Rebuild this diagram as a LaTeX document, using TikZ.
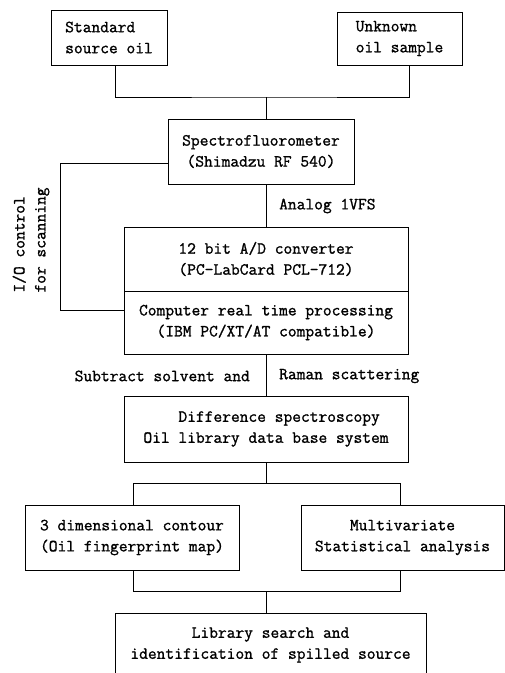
\documentclass[tikz,border=0pt]{standalone}
\usepackage{fontspec}
\newfontfamily\dotfont[FakeBold=1.2]{Latin Modern Mono}
\begin{document}
\begin{tikzpicture}[x=1pt,y=-1pt,
  box/.style={draw, line width=0.9pt, inner sep=0pt, align=center,
    font=\dotfont\fontsize{17}{21}\selectfont},
  lbl/.style={inner sep=0pt, font=\dotfont\fontsize{17}{21}\selectfont},
  conn/.style={line width=0.9pt}]
\useasboundingbox (0,0) rectangle (505,673);
% boxes
\node[box, align=left, minimum width=116pt, minimum height=55pt] (std) at (109,37.5) {Standard\\source oil};
\node[box, align=left, minimum width=125pt, minimum height=53pt] (unk) at (399.5,38.5) {Unknown\\oil sample};
\node[box, minimum width=186pt, minimum height=65pt] (spec) at (261,151.5) {Spectrofluorometer\\(Shimadzu RF 540)};
\node[box, minimum width=284pt, minimum height=64pt] (ad) at (266,259) {12 bit A/D converter\\(PC-LabCard PCL-712)};
\node[box, minimum width=284pt, minimum height=63pt] (comp) at (266,322.5) {Computer real time processing\\(IBM PC/XT/AT compatible)};
\node[box, align=left, minimum width=284pt, minimum height=66pt] (diff) at (266,429) {\hphantom{Oil }Difference spectroscopy\\Oil library data base system};
\node[box, minimum width=214pt, minimum height=65pt] (three) at (132,537.5) {3 dimensional contour\\(Oil fingerprint map)};
\node[box, minimum width=203pt, minimum height=65pt] (multi) at (402.5,537.5) {Multivariate\\Statistical analysis};
\node[box, minimum width=311pt, minimum height=64pt] (lib) at (270.5,645) {Library search and\\identification of spilled source};
% labels
\node[lbl, rotate=90, align=left] (io) at (31,240) {I/O control\\for scanning};
\node[lbl, anchor=west] (analog) at (279,206) {Analog 1VFS};
\node[lbl, anchor=east] (sub) at (250,376) {Subtract solvent and};
\node[lbl, anchor=west] (raman) at (279,376) {Raman scattering};
% junction coordinates
\coordinate (j1) at (266,97);
\coordinate (lt) at (60,163);
\coordinate (lb) at (60,310);
\coordinate (j3) at (266,483);
\coordinate (j3l) at (133,483);
\coordinate (j3r) at (400,483);
\coordinate (j4) at (266,591);
\coordinate (j4l) at (133,591);
\coordinate (j4r) at (400,591);
% connectors
\draw[conn] ([xshift=6pt]std.south) |- (j1) -| ([xshift=9.5pt]unk.south);
\draw[conn] (j1) -- (j1 |- spec.north);
\draw[conn] (spec.west |- lt) -- (lt) -- (lb) -- (comp.west |- lb);
\draw[conn] (ad.north |- spec.south) -- (ad.north);
\draw[conn] (comp.south) -- (diff.north);
\draw[conn] (diff.south) -- (j3);
\draw[conn] (j3l |- three.north) -- (j3l) -- (j3r) -- (j3r |- multi.north);
\draw[conn] (j4l |- three.south) -- (j4l) -- (j4r) -- (j4r |- multi.south);
\draw[conn] (j4) -- (j4 |- lib.north);
\end{tikzpicture}
\end{document}
